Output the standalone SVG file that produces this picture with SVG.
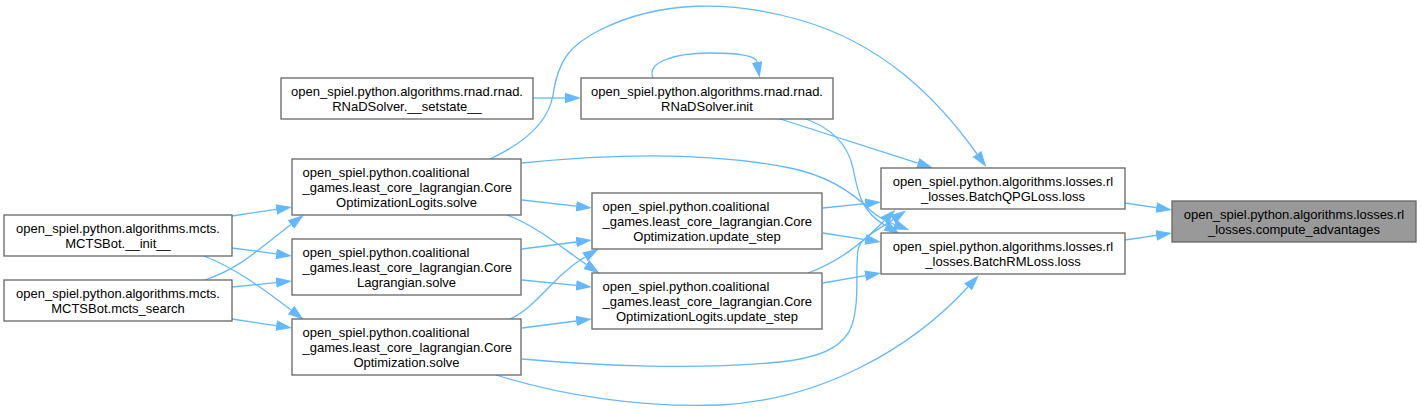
<svg xmlns="http://www.w3.org/2000/svg" width="1421" height="411" viewBox="0 0 1421 411">
<style>
.bg{fill:#ffffff}
.n rect{fill:#ffffff;stroke:#666666;stroke-width:1.3}
.n.hl rect{fill:#999999}
.n text{font-family:"Liberation Sans",Arial,Helvetica,sans-serif;font-size:13px;fill:#000000}
.c{text-anchor:middle}
.l{text-anchor:start}
#edges path{fill:none;stroke:#63b8ff;stroke-width:1.3;marker-end:url(#ah)}
</style>
<defs>
<marker id="ah" viewBox="0 -6 16 12" refX="0" refY="0" markerWidth="16" markerHeight="12" markerUnits="userSpaceOnUse" orient="auto">
<path d="M0,-5.3 L16,0 L0,5.3 Z" fill="#63b8ff"/>
</marker>
</defs>
<rect class="bg" x="0" y="0" width="1421" height="411"/>
<g id="edges">
<path d="M1125,203 L1156.2,207.6"/>
<path d="M1125,240 L1156.2,235.4"/>
<path d="M777,118 L917.8,163.1"/>
<path d="M803,118 C833,128 848,145 853,168 C858,195 862,212 886,226"/>
<path d="M653,78 C646,62 675,53 710,53 C740,53 756,56 757,62"/>
<path d="M533,98 L565,98"/>
<path d="M490,159 C520,145 548,125 553,95 C558,60 570,45 600,30 C660,0 730,0 800,20 C880,43 935,95 977,154"/>
<path d="M522,163 C600,155 700,150 790,168 C830,176 855,195 870,210 C878,217 885,221 894.4,224.5"/>
<path d="M522,200 L576.1,206.2"/>
<path d="M507,215 C535,225 565,250 586.4,264.5"/>
<path d="M522,249 L576.1,242"/>
<path d="M522,280 L576.1,285.4"/>
<path d="M510,319 C538,306 552,277 585,257"/>
<path d="M522,328 L576.1,321"/>
<path d="M522,359 C600,366 700,370 780,362 C825,357 845,345 852,325 C860,300 855,270 858,250 C860,238 875,232 893,219.6"/>
<path d="M496,375 C560,395 640,408 720,405 C820,400 910,350 968,287"/>
<path d="M808,273 C838,262 860,245 884,221"/>
<path d="M823,283 L865.2,275.7"/>
<path d="M823,208 L865.1,203.6"/>
<path d="M823,233 L865.2,239.6"/>
<path d="M232,216 L276.2,209.4"/>
<path d="M232,248 L276.1,253.9"/>
<path d="M204,256 C235,268 262,288 291,310"/>
<path d="M205,280 C240,268 255,252 291,224.6"/>
<path d="M232,287 L276.1,282.6"/>
<path d="M232,319 L276.2,325.6"/>
</g>
<g id="n_setstate" class="n">
<rect x="281" y="78" width="252" height="41"/>
<text class="c" x="407" y="95.5">open_spiel.python.algorithms.rnad.rnad.</text>
<text class="c" x="407" y="110.5">RNaDSolver.__setstate__</text>
</g>
<g id="n_rnad_init" class="n">
<rect x="581" y="78" width="252" height="41"/>
<text class="c" x="707" y="95.5">open_spiel.python.algorithms.rnad.rnad.</text>
<text class="c" x="707" y="110.5">RNaDSolver.init</text>
</g>
<g id="n_mcts_init" class="n">
<rect x="4" y="215" width="228" height="41"/>
<text class="c" x="118" y="232.5">open_spiel.python.algorithms.mcts.</text>
<text class="c" x="118" y="247.5">MCTSBot.__init__</text>
</g>
<g id="n_mcts_search" class="n">
<rect x="4" y="280" width="228" height="41"/>
<text class="c" x="118" y="297.5">open_spiel.python.algorithms.mcts.</text>
<text class="c" x="118" y="312.5">MCTSBot.mcts_search</text>
</g>
<g id="n_logits_solve" class="n">
<rect x="292" y="159" width="229" height="56"/>
<text class="l" x="302.5" y="176.5">open_spiel.python.coalitional</text>
<text class="l" x="302.5" y="191.5">_games.least_core_lagrangian.Core</text>
<text class="c" x="406.5" y="206.5">OptimizationLogits.solve</text>
</g>
<g id="n_lagrangian_solve" class="n">
<rect x="292" y="239" width="229" height="56"/>
<text class="l" x="302.5" y="256.5">open_spiel.python.coalitional</text>
<text class="l" x="302.5" y="271.5">_games.least_core_lagrangian.Core</text>
<text class="c" x="406.5" y="286.5">Lagrangian.solve</text>
</g>
<g id="n_opt_solve" class="n">
<rect x="292" y="319" width="229" height="56"/>
<text class="l" x="302.5" y="336.5">open_spiel.python.coalitional</text>
<text class="l" x="302.5" y="351.5">_games.least_core_lagrangian.Core</text>
<text class="c" x="406.5" y="366.5">Optimization.solve</text>
</g>
<g id="n_opt_update" class="n">
<rect x="592" y="193" width="230" height="56"/>
<text class="l" x="602.5" y="210.5">open_spiel.python.coalitional</text>
<text class="l" x="602.5" y="225.5">_games.least_core_lagrangian.Core</text>
<text class="c" x="707" y="240.5">Optimization.update_step</text>
</g>
<g id="n_logits_update" class="n">
<rect x="592" y="273" width="230" height="56"/>
<text class="l" x="602.5" y="290.5">open_spiel.python.coalitional</text>
<text class="l" x="602.5" y="305.5">_games.least_core_lagrangian.Core</text>
<text class="c" x="707" y="320.5">OptimizationLogits.update_step</text>
</g>
<g id="n_qpg_loss" class="n">
<rect x="881" y="168" width="244" height="41"/>
<text class="c" x="1003" y="185.5">open_spiel.python.algorithms.losses.rl</text>
<text class="c" x="1003" y="200.5">_losses.BatchQPGLoss.loss</text>
</g>
<g id="n_rm_loss" class="n">
<rect x="881" y="233" width="244" height="41"/>
<text class="c" x="1003" y="250.5">open_spiel.python.algorithms.losses.rl</text>
<text class="c" x="1003" y="265.5">_losses.BatchRMLoss.loss</text>
</g>
<g id="n_compute_adv" class="n hl">
<rect x="1172" y="201" width="244" height="41"/>
<text class="c" x="1294" y="218.5">open_spiel.python.algorithms.losses.rl</text>
<text class="c" x="1294" y="233.5">_losses.compute_advantages</text>
</g>
</svg>
